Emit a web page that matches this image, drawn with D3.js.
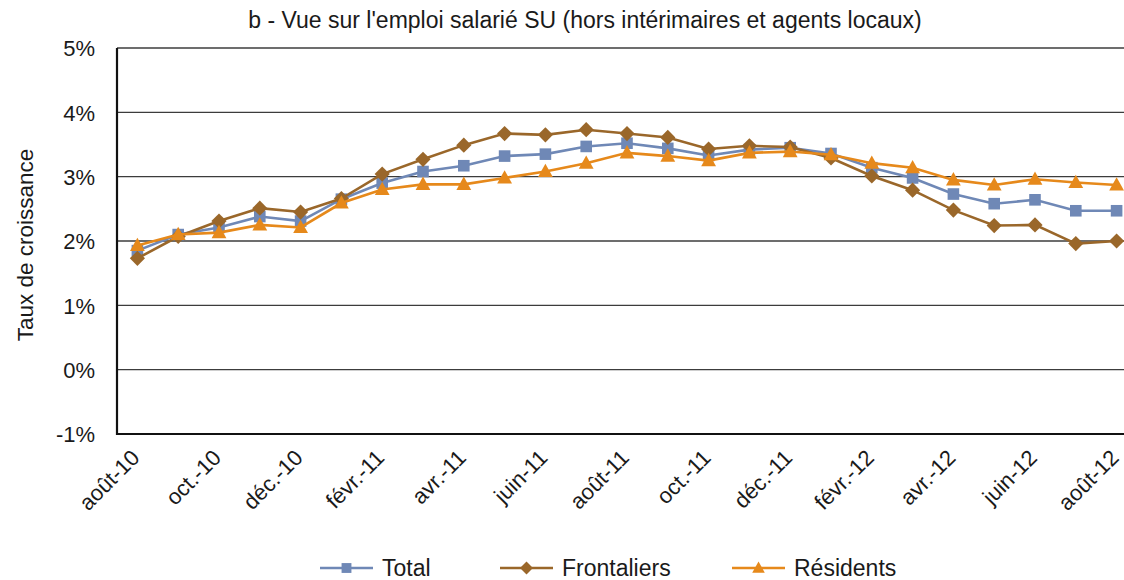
<!DOCTYPE html>
<html>
<head>
<meta charset="utf-8">
<script src="https://cdn.jsdelivr.net/npm/d3@7"></script>
<style>
  body { margin: 0; background: #fff; }
  text { font-family: "Liberation Sans", Arial, sans-serif; fill: #1a1a1a; }
</style>
</head>
<body>
<div class="lineChart"></div>
<script>
var months = ["août-10","sept.-10","oct.-10","nov.-10","déc.-10","janv.-11","févr.-11","mars-11","avr.-11","mai-11",
  "juin-11","juil.-11","août-11","sept.-11","oct.-11","nov.-11","déc.-11","janv.-12","févr.-12","mars-12",
  "avr.-12","mai-12","juin-12","juil.-12","août-12"];

var total = [1.85, 2.1, 2.21, 2.38, 2.31, 2.65, 2.9, 3.08, 3.17, 3.32, 3.35, 3.47, 3.52, 3.44, 3.33, 3.42,
  3.45, 3.36, 3.14, 2.98, 2.73, 2.58, 2.64, 2.47, 2.47];
var frontaliers = [1.73, 2.07, 2.31, 2.51, 2.45, 2.66, 3.04, 3.27, 3.49, 3.67, 3.65, 3.73, 3.67, 3.61, 3.43, 3.48,
  3.46, 3.29, 3.01, 2.79, 2.48, 2.24, 2.25, 1.96, 2.0];
var residents = [1.93, 2.1, 2.13, 2.25, 2.21, 2.59, 2.8, 2.88, 2.88, 2.98, 3.08, 3.21, 3.37, 3.32, 3.25, 3.37,
  3.39, 3.34, 3.21, 3.14, 2.95, 2.87, 2.96, 2.91, 2.87];

var yTicks = [-1, 0, 1, 2, 3, 4, 5];

var series = [
  { name: "Total", values: total, color: "#6f88b6", shape: "square" },
  { name: "Frontaliers", values: frontaliers, color: "#9a672a", shape: "diamond" },
  { name: "Résidents", values: residents, color: "#e6891b", shape: "triangle" }
];

var width = 1124, height = 580,
    margin = { top: 48, left: 117, bottom: 434 };

var svg = d3.select(".lineChart").append("svg")
    .attr("width", width)
    .attr("height", height);

var x = d3.scalePoint()
    .domain(months)
    .range([margin.left, 1137])
    .padding(0.5);

var y = d3.scaleLinear()
    .domain([-1, 5])
    .range([margin.bottom, margin.top]);

// title
svg.append("text")
  .text("b - Vue sur l'emploi salarié SU (hors intérimaires et agents locaux)")
  .attr("x", 585)
  .attr("y", 28)
  .style("text-anchor", "middle")
  .style("font-size", "23px");

// horizontal grid
svg.append("g").selectAll("line")
  .data(yTicks.filter(function(d) { return d > -1; }))
  .enter().append("line")
    .attr("x1", margin.left)
    .attr("x2", width)
    .attr("y1", function(d) { return y(d); })
    .attr("y2", function(d) { return y(d); })
    .style("stroke", "#3c3c3c")
    .style("stroke-width", 1.3);

// y axis
var yAxis = svg.append("g")
  .attr("transform", "translate(" + margin.left + ",0)")
  .call(d3.axisLeft(y).tickValues(yTicks).tickSize(0).tickPadding(22)
    .tickFormat(function(d) { return d + "%"; }));
yAxis.select(".domain").remove();
yAxis.selectAll("text").style("font-size", "22px").attr("dy", "0.36em");

svg.append("line")
  .attr("x1", margin.left).attr("x2", margin.left)
  .attr("y1", margin.top).attr("y2", margin.bottom + 1)
  .style("stroke", "#111").style("stroke-width", 2.2);

// x axis
var xAxis = svg.append("g")
  .attr("transform", "translate(0," + margin.bottom + ")")
  .call(d3.axisBottom(x).tickValues(months.filter(function(d, i) { return i % 2 === 0; })).tickSize(0));
xAxis.select(".domain").remove();
xAxis.selectAll("text")
  .style("font-size", "22px")
  .style("text-anchor", "end")
  .attr("y", 0)
  .attr("dy", 0)
  .attr("transform", "translate(3,25) rotate(-45)");

svg.append("line")
  .attr("x1", margin.left - 1).attr("x2", width)
  .attr("y1", margin.bottom).attr("y2", margin.bottom)
  .style("stroke", "#111").style("stroke-width", 2.2);

// y axis title
svg.append("text")
  .text("Taux de croissance")
  .attr("transform", "translate(33,245) rotate(-90)")
  .style("text-anchor", "middle")
  .style("font-size", "22.5px");

// marker shapes, r = half size
function markerPath(shape, r) {
  if (shape === "square") return "M" + (-r) + "," + (-r) + "H" + r + "V" + r + "H" + (-r) + "Z";
  if (shape === "diamond") return "M0," + (-r) + "L" + r + ",0L0," + r + "L" + (-r) + ",0Z";
  return "M0," + (-r * 1.05) + "L" + r + "," + (r * 0.75) + "L" + (-r) + "," + (r * 0.75) + "Z";
}
var markerSize = { square: 5.8, diamond: 7.6, triangle: 7.4 };

var line = d3.line()
  .x(function(d, i) { return x(months[i]); })
  .y(function(d) { return y(d); });

var lineGroup = svg.selectAll(".series")
  .data(series)
  .enter().append("g")
    .attr("class", "series");

lineGroup.append("path")
  .attr("d", function(s) { return line(s.values); })
  .style("fill", "none")
  .style("stroke", function(s) { return s.color; })
  .style("stroke-width", 2.6);

lineGroup.each(function(s) {
  d3.select(this).selectAll(".marker")
    .data(s.values)
    .enter().append("path")
      .attr("class", "marker")
      .attr("d", markerPath(s.shape, markerSize[s.shape]))
      .attr("transform", function(d, i) { return "translate(" + x(months[i]) + "," + y(d) + ")"; })
      .style("fill", s.color);
});

// legend
var legendX = [320, 500, 732];
var legend = svg.selectAll(".legend")
  .data(series)
  .enter().append("g")
    .attr("class", "legend")
    .attr("transform", function(d, i) { return "translate(" + legendX[i] + ",568)"; });

legend.append("line")
  .attr("x1", 0).attr("x2", 53)
  .style("stroke", function(s) { return s.color; })
  .style("stroke-width", 2.6);

legend.append("path")
  .attr("d", function(s) { return markerPath(s.shape, markerSize[s.shape] * 0.85); })
  .attr("transform", "translate(26.5,0)")
  .style("fill", function(s) { return s.color; });

legend.append("text")
  .text(function(s) { return s.name; })
  .attr("x", 62)
  .attr("dy", "0.36em")
  .style("font-size", "23px");
</script>
</body>
</html>
